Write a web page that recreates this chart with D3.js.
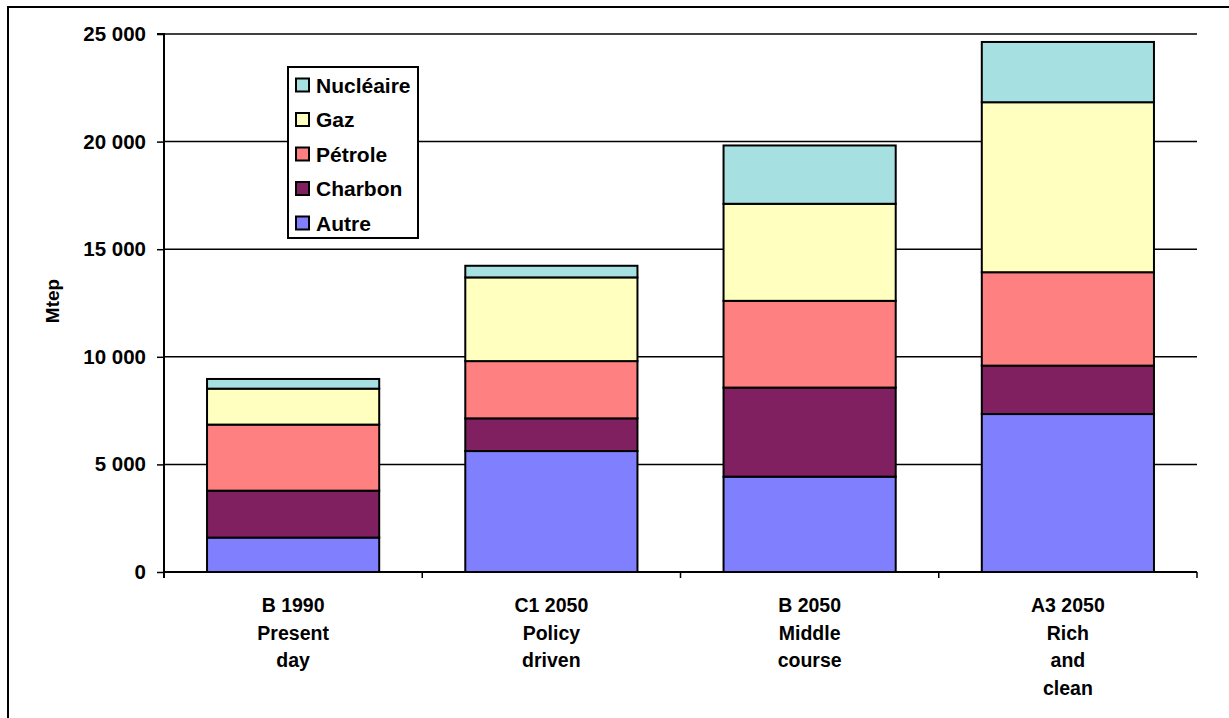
<!DOCTYPE html>
<html>
<head>
<meta charset="utf-8">
<script src="https://cdn.jsdelivr.net/npm/d3@7"></script>
<style>
  html, body { margin: 0; padding: 0; background: #fff; }
  svg { display: block; }
  text { font-family: Arial, "Liberation Sans", sans-serif; font-weight: bold; fill: #000; }
</style>
</head>
<body>
<svg id="chart" width="1229" height="718"></svg>
<script>
// ---- data ----
const categories = [
  ["B 1990", "Present", "day"],
  ["C1 2050", "Policy", "driven"],
  ["B 2050", "Middle", "course"],
  ["A3 2050", "Rich", "and", "clean"]
];
const seriesNames = ["Autre", "Charbon", "Pétrole", "Gaz", "Nucléaire"];
const autre     = [1600, 5620, 4430, 7340];
const charbon   = [2180, 1520, 4140, 2250];
const petrole   = [3070, 2660, 4030, 4340];
const gaz       = [1670, 3890, 4510, 7900];
const nucleaire = [450, 540, 2710, 2800];
const yTicks = [0, 5000, 10000, 15000, 20000, 25000];
const colors = ["#8080FF", "#802060", "#FF8080", "#FFFFC0", "#A6E0E0"];

// ---- build ----
const seriesValues = [autre, charbon, petrole, gaz, nucleaire];
const rows = categories.map((c, i) => {
  const r = { key: i };
  seriesNames.forEach((s, j) => r[s] = seriesValues[j][i]);
  return r;
});
const stacked = d3.stack().keys(seriesNames)(rows);

const svg = d3.select("#chart");
const pL = 164, pR = 1197, pT = 34, pB = 572;
const FONT = "Arial, 'Liberation Sans', sans-serif";

// outer border
svg.append("rect").attr("x", 8).attr("y", 7).attr("width", 1240).attr("height", 740)
  .attr("fill", "none").attr("stroke", "#000").attr("stroke-width", 2);

const x = d3.scaleBand().domain(d3.range(categories.length)).range([pL, pR]).paddingInner(1/3).paddingOuter(1/6);
const y = d3.scaleLinear().domain([0, 25000]).range([pB, pT]);

// gridlines
svg.append("g").selectAll("line").data(yTicks.filter(t => t > 0)).join("line")
  .attr("x1", pL).attr("x2", pR)
  .attr("y1", d => y(d)).attr("y2", d => y(d))
  .attr("stroke", "#000").attr("stroke-width", 1.5);

// bars
svg.append("g").selectAll("g").data(stacked).join("g")
  .attr("fill", (d, i) => colors[i])
  .selectAll("rect").data(d => d).join("rect")
  .attr("x", (d, i) => x(i))
  .attr("width", x.bandwidth())
  .attr("y", d => y(d[1]))
  .attr("height", d => y(d[0]) - y(d[1]))
  .attr("stroke", "#000").attr("stroke-width", 2);

// y axis
const yAxis = d3.axisLeft(y).tickValues(yTicks).tickSize(7).tickPadding(11)
  .tickFormat(d => d3.format(",")(d).replace(/,/g, " "));
const gy = svg.append("g").attr("transform", `translate(${pL},0)`).call(yAxis);
gy.select(".domain").attr("stroke", "#000").attr("stroke-width", 2).attr("d", `M-7,${pT}H0V${pB + 6}`);
gy.selectAll(".tick line").attr("stroke", "#000").attr("stroke-width", 1.5);
gy.selectAll(".tick text").style("font-size", "20.5px").style("font-weight", "bold")
  .style("font-family", FONT).attr("fill", "#000");

// x axis
const xb = d3.scaleLinear().domain([0, categories.length]).range([pL, pR]);
const gx = svg.append("g").attr("transform", `translate(0,${pB})`);
gx.append("line").attr("x1", pL).attr("x2", pR).attr("y1", 0).attr("y2", 0)
  .attr("stroke", "#000").attr("stroke-width", 2);
gx.selectAll("line.tk").data(d3.range(categories.length + 1)).join("line").attr("class", "tk")
  .attr("x1", d => xb(d)).attr("x2", d => xb(d)).attr("y1", 0).attr("y2", 6)
  .attr("stroke", "#000").attr("stroke-width", 1.5);
gx.selectAll("text").data(categories).join("text")
  .attr("text-anchor", "middle")
  .attr("x", (d, i) => x(i) + x.bandwidth() / 2)
  .style("font-size", "19.5px")
  .each(function(lines) {
    const cx = d3.select(this).attr("x");
    d3.select(this).selectAll("tspan").data(lines).join("tspan")
      .attr("x", cx)
      .attr("y", (l, k) => 40 + k * 27.7)
      .text(l => l);
  });

// y title
svg.append("text").attr("transform", "translate(59,301) rotate(-90)")
  .attr("text-anchor", "middle").style("font-size", "19px").text("Mtep");

// legend
const lg = svg.append("g");
lg.append("rect").attr("x", 288).attr("y", 67).attr("width", 130).attr("height", 171)
  .attr("fill", "#fff").attr("stroke", "#000").attr("stroke-width", 2);
const legendOrder = seriesNames.map((s, i) => ({ s, c: colors[i] })).reverse();
const li = lg.selectAll("g").data(legendOrder).join("g")
  .attr("transform", (d, i) => `translate(296,${85 + i * 34.5})`);
li.append("rect").attr("x", 0).attr("y", -6.5).attr("width", 13).attr("height", 13)
  .attr("fill", d => d.c).attr("stroke", "#000").attr("stroke-width", 2);
li.append("text").attr("x", 20).attr("y", 7.5).style("font-size", "21px").text(d => d.s);
</script>
</body>
</html>
